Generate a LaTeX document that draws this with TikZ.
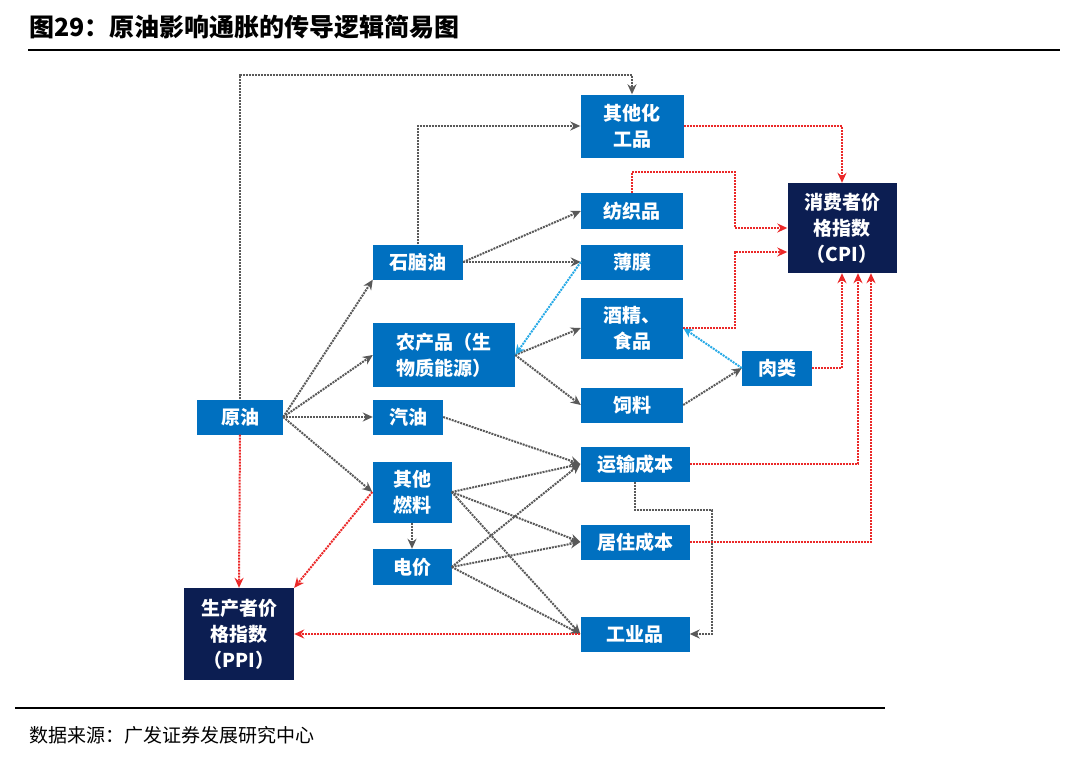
\documentclass[tikz,border=0pt]{standalone}
\usepackage{fontspec}
\setmainfont{Noto Sans CJK SC}
\usetikzlibrary{arrows.meta,positioning}
\definecolor{boxblue}{RGB}{0,112,192}
\definecolor{navy}{RGB}{12,30,82}
\definecolor{lnred}{RGB}{235,40,40}
\definecolor{lncyan}{RGB}{40,170,230}
\begin{document}
\begin{tikzpicture}[x=1pt,y=-1pt,
	box/.style={fill=boxblue,text=white,font=\bfseries\fontsize{19}{26}\selectfont,
		inner sep=0pt,align=center},
	idx/.style={box,fill=navy},
	gl/.style={densely dotted,line width=2pt,gray!70!black,-{Stealth[length=10pt,width=9pt,open]}},
	rl/.style={gl,lnred},
	cl/.style={gl,lncyan}]
	\useasboundingbox (0,0) rectangle (1080,758);
	% title and rules
	\node[anchor=west,font=\bfseries\fontsize{25}{28}\selectfont] (title) at (26,27) {图29：原油影响通胀的传导逻辑简易图};
	\draw[line width=1.5pt] (28,50) -- (1060,50);
	\draw[line width=1.2pt] (15,708) -- (885,708);
	\node[anchor=west,font=\fontsize{19}{22}\selectfont] (src) at (26,735) {数据来源：广发证券发展研究中心};
	% boxes
	\node[box,minimum width=86,minimum height=35] (oil) at (240,417) {原油};
	\node[box,minimum width=90,minimum height=35] (naph) at (418,262) {石脑油};
	\node[box,minimum width=142,minimum height=64,text width=132] (agri) at (444,355) {农产品（生\\物质能源）};
	\node[box,minimum width=70,minimum height=35] (gas) at (408,417) {汽油};
	\node[box,minimum width=79,minimum height=61] (fuel) at (412,492) {其他\\燃料};
	\node[box,minimum width=79,minimum height=36] (elec) at (412,567) {电价};
	\node[box,minimum width=103,minimum height=63] (chem) at (632,126) {其他化\\工品};
	\node[box,minimum width=102,minimum height=36] (text) at (632,211) {纺织品};
	\node[box,minimum width=102,minimum height=35] (film) at (632,262) {薄膜};
	\node[box,minimum width=102,minimum height=61] (food) at (632,328) {酒精、\\食品};
	\node[box,minimum width=102,minimum height=35] (feed) at (632,405) {饲料};
	\node[box,minimum width=109,minimum height=35] (trans) at (635,464) {运输成本};
	\node[box,minimum width=109,minimum height=35] (house) at (635,542) {居住成本};
	\node[box,minimum width=109,minimum height=35] (ind) at (635,634) {工业品};
	\node[box,minimum width=70,minimum height=35] (meat) at (777,368) {肉类};
	\node[idx,minimum width=109,minimum height=90] (cpi) at (842,228) {消费者价\\格指数\\（CPI）};
	\node[idx,minimum width=110,minimum height=92] (ppi) at (239,634) {生产者价\\格指数\\（PPI）};
	% gray links
	\coordinate (topline) at (0,75);
	\coordinate (bend) at (712,510);
	\draw[gl] (oil.north) -- (oil.north |- topline) -| (chem.north);
	\draw[gl] (naph.north) |- (chem.west);
	\foreach \to in {naph.south west,agri.west,gas.west,fuel.west}
		\draw[gl] (oil.east) -- (\to);
	\draw[gl] (naph.east) -- (text.west);
	\draw[gl] (naph.east) -- (film.west);
	\draw[gl] (agri.east) -- (food.west);
	\draw[gl] (agri.east) -- (feed.west);
	\draw[gl] (feed.east) -- (meat.west);
	\draw[gl] (gas.east) -- (trans.west);
	\foreach \to in {trans.west,house.west,ind.west}{
		\draw[gl] (fuel.east) -- (\to);
		\draw[gl] (elec.east) -- (\to);
	}
	\draw[gl] (fuel.south) -- (elec.north);
	\draw[gl] (trans.south) |- (bend) |- (ind.east);
	% cyan links
	\draw[cl] (film.west) -- (agri.east);
	\draw[cl] (meat.west) -- (food.east);
	% red links
	\coordinate (tx) at (735,172);
	\draw[rl] (chem.east) -| (cpi.north);
	\draw[rl] (text.north) |- (tx) |- (cpi.west);
	\draw[rl] (food.east) -| (tx |- food.east) |- ([yshift=-24]cpi.west);
	\draw[rl] (meat.east) -| (cpi.south);
	\draw[rl] (trans.east) -| ([xshift=16]cpi.south);
	\draw[rl] (house.east) -| ([xshift=29]cpi.south);
	\draw[rl] (oil.south) -- (ppi.north);
	\draw[rl] (fuel.west) -- (ppi.north east);
	\draw[rl] (ind.west) -- (ppi.east);
\end{tikzpicture}
\end{document}
